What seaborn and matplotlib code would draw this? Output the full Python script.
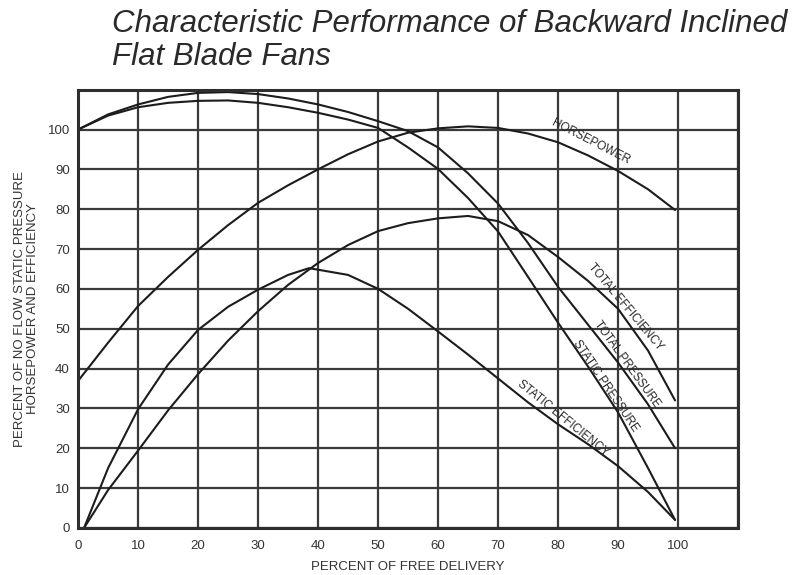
import numpy as np
import pandas as pd
import matplotlib
matplotlib.use("Agg")
import matplotlib.pyplot as plt
import seaborn as sb

# values (percent of free delivery -> percent)
x_main = [0, 5, 10, 15, 20, 25, 30, 35, 40, 45, 50, 55, 60, 65, 70, 75, 80, 85, 90, 95, 99.5]
total_pressure = [100, 103.8, 106.3, 108.2, 109.2, 109.4, 108.9, 107.8, 106.3, 104.4, 102.1,
                  99.6, 95.5, 89, 81.4, 71.5, 60.5, 51, 41.5, 31, 20]
static_pressure = [100, 103.5, 105.6, 106.7, 107.2, 107.3, 106.7, 105.6, 104.2, 102.5, 100.4,
                   95.5, 90.1, 82.8, 74.4, 63, 51.5, 40.5, 29, 15, 2]
horsepower = [36.9, 46.5, 55.7, 63, 69.8, 76, 81.6, 86, 90, 93.8, 97,
              99.2, 100.3, 100.8, 100.4, 99, 96.8, 93.5, 89.6, 85, 79.8]

x_te = [1, 5, 10, 15, 20, 25, 30, 35, 40, 45, 50, 55, 60, 65, 70, 75, 80, 85, 90, 95, 99.5]
total_eff = [0, 9.5, 19.4, 29.5, 38.6, 47, 54.4, 61, 66.5, 71, 74.5,
             76.5, 77.7, 78.3, 77, 73.5, 68, 62, 55, 44.5, 32]

x_se = [1, 5, 10, 15, 20, 25, 30, 35, 38.5, 45, 50, 55, 60, 65, 70, 75, 80, 85, 90, 95, 99.5]
static_eff = [0, 15, 29.8, 41, 49.7, 55.5, 59.8, 63.5, 65.2, 63.5, 60,
              55, 49.3, 43.5, 37.5, 31.5, 26, 21, 15.5, 9, 2]

ticks = list(range(0, 101, 10))

# curve labels: text, x, y, angle
labels = [("HORSEPOWER", 85.5, 97.0, -27),
          ("TOTAL EFFICIENCY", 91.3, 55.5, -50),
          ("TOTAL PRESSURE", 91.5, 41.0, -54),
          ("STATIC PRESSURE", 88.0, 35.5, -56),
          ("STATIC EFFICIENCY", 80.8, 27.5, -39)]

sb.set_theme(style="white")
plt.rcParams['font.family'] = ['Liberation Sans', 'DejaVu Sans']

fig = plt.figure(figsize=(7.97, 5.75), dpi=100)
ax = fig.add_axes([0.098, 0.082, 0.828, 0.762])

line_col = "#1c1c1c"
series = [(x_main, total_pressure), (x_main, static_pressure), (x_main, horsepower),
          (x_te, total_eff), (x_se, static_eff)]
for xs, ys in series:
    df = pd.DataFrame({"x": xs, "y": ys})
    sb.lineplot(data=df, x="x", y="y", color=line_col, linewidth=1.5, ax=ax)

ax.set_xlim(0, 110)
ax.set_ylim(0, 110)
ax.set_xticks(ticks)
ax.set_yticks(ticks)
ax.set_xticks([110], minor=True)
ax.set_yticks([110], minor=True)
ax.grid(True, which="both", color="#3a3a3a", linewidth=1.6)
ax.set_axisbelow(True)
for s in ax.spines.values():
    s.set_color("#2e2e2e")
    s.set_linewidth(2.2)
ax.tick_params(axis="both", which="both", length=0, labelsize=9.5, labelcolor="#333333")
ax.tick_params(axis="x", pad=9)
ax.tick_params(axis="y", pad=6)

ax.set_xlabel("PERCENT OF FREE DELIVERY", fontsize=9.5, color="#333333", labelpad=6)
ax.set_ylabel("PERCENT OF NO FLOW STATIC PRESSURE\nHORSEPOWER AND EFFICIENCY",
              fontsize=9.5, color="#333333", labelpad=6, linespacing=1.1)

for txt, lx, ly, ang in labels:
    ax.text(lx, ly, txt, fontsize=8.5, color="#2a2a2a", rotation=ang,
            rotation_mode="anchor", ha="center", va="center")

fig.text(112 / 797, 1 - 9 / 575, "Characteristic Performance of Backward Inclined\nFlat Blade Fans",
         fontsize=22.5, style="italic", color="#2a2a2a", ha="left", va="top", linespacing=1.15)

fig.savefig("out.png", dpi=100)
